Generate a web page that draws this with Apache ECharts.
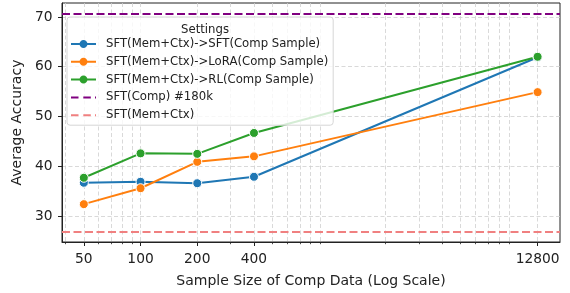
<!DOCTYPE html>
<html>
<head>
<meta charset="utf-8">
<script src="https://cdn.jsdelivr.net/npm/echarts@6/dist/echarts.min.js"></script>
<style>
  html, body { margin: 0; padding: 0; background: #fff; }
  #chart { width: 570px; height: 293px; }
</style>
</head>
<body>
<div id="chart"></div>
<script>
// values
const sampleSizes = [50, 100, 200, 400, 12800];
const sftSft = [36.7, 36.9, 36.6, 37.9, 61.9];
const sftLora = [32.4, 35.6, 40.9, 42.0, 54.9];
const sftRl = [37.7, 42.6, 42.5, 46.7, 62.0];
const sftCompRef = 70.6;   // SFT(Comp) #180k
const sftMemCtxRef = 26.9; // SFT(Mem+Ctx)

const xMajorTicks = [50, 100, 200, 400, 12800];
const xMinorTicks = [40, 60, 70, 80, 90, 300, 500, 600, 700, 800, 900,
  2000, 3000, 4000, 5000, 6000, 7000, 8000, 9000];
const yTicks = [30, 40, 50, 60, 70];

const FONT = 'DejaVu Sans';
const gridLine = { show: true, lineStyle: { color: '#cfcfcf', width: 0.8, type: [4, 2.5] } };

// legend icons (25x10 box): solid line with a dot, or a dashed line
const BOX = 'M0,0h0.001v0.001z M0,10h0.001v-0.001z ';
const ICON_DOT = 'path://' + BOX + 'M0,4h25v2h-25z ' +
  'M16.5,5 C16.5,7.21 14.71,9 12.5,9 C10.29,9 8.5,7.21 8.5,5 C8.5,2.79 10.29,1 12.5,1 C14.71,1 16.5,2.79 16.5,5 Z';
const ICON_DASH = 'path://' + BOX + 'M0,4h7.5v2h-7.5z M12.3,4h7.5v2h-7.5z M24,4h1v2h-1z';

const pairs = (ys) => sampleSizes.map((x, i) => [x, ys[i]]);

function lineSeries(name, color, ys) {
  return {
    name: name,
    type: 'line',
    data: pairs(ys),
    symbol: 'circle',
    symbolSize: 9,
    lineStyle: { color: color, width: 2 },
    itemStyle: { color: color, borderColor: '#fff', borderWidth: 1 },
    emphasis: { disabled: true },
    z: 3
  };
}

function refSeries(name, color, value) {
  return {
    name: name,
    type: 'line',
    data: [],
    symbol: 'none',
    lineStyle: { color: color, width: 2, type: [8, 3.5] },
    itemStyle: { color: color },
    markLine: {
      silent: true,
      symbol: 'none',
      label: { show: false },
      lineStyle: { color: color, width: 2, type: [8, 3.5] },
      data: [{ yAxis: value }]
    }
  };
}

const myChart = echarts.init(document.getElementById('chart'));
myChart.setOption({
  animation: false,
  textStyle: { fontFamily: FONT },
  grid: {
    left: 62, right: 10, top: 3, bottom: 50,
    show: true, borderColor: '#222', borderWidth: 1, backgroundColor: 'transparent'
  },
  title: {
    text: 'Settings',
    left: 200, top: 19,
    textAlign: 'center',
    textStyle: { fontFamily: FONT, fontSize: 11.7, fontWeight: 'normal', color: '#222' },
    z: 20
  },
  legend: {
    orient: 'vertical',
    left: 67, top: 17,
    padding: [20, 5, 3, 4],
    itemWidth: 25, itemHeight: 10, itemGap: 3.8,
    itemStyle: { borderWidth: 0 },
    backgroundColor: 'rgba(255,255,255,0.8)',
    borderColor: '#d6d6d6', borderWidth: 1, borderRadius: 3,
    textStyle: { fontFamily: FONT, fontSize: 11.7, color: '#222', lineHeight: 14, padding: [0, 0, 0, 5] },
    data: [
      { name: 'SFT(Mem+Ctx)->SFT(Comp Sample)', icon: ICON_DOT },
      { name: 'SFT(Mem+Ctx)->LoRA(Comp Sample)', icon: ICON_DOT },
      { name: 'SFT(Mem+Ctx)->RL(Comp Sample)', icon: ICON_DOT },
      { name: 'SFT(Comp) #180k', icon: ICON_DASH },
      { name: 'SFT(Mem+Ctx)', icon: ICON_DASH }
    ],
    z: 10
  },
  xAxis: [
    {
      type: 'log',
      min: 38.3, max: 16830,
      name: 'Sample Size of Comp Data (Log Scale)',
      nameLocation: 'middle', nameGap: 32,
      nameTextStyle: { fontFamily: FONT, fontSize: 14, color: '#222' },
      axisLine: { show: true, onZero: false, lineStyle: { color: '#222', width: 1 } },
      axisTick: { show: true, length: 4, customValues: xMajorTicks, lineStyle: { color: '#222' } },
      axisLabel: {
        customValues: xMajorTicks, margin: 10.5,
        fontFamily: FONT, fontSize: 13.8, color: '#222',
        formatter: (v) => String(Math.round(v))
      },
      splitLine: gridLine,
      minorTick: { show: false }, minorSplitLine: { show: false }
    },
    {
      type: 'log',
      position: 'bottom',
      min: 38.3, max: 16830,
      axisLine: { show: false, onZero: false },
      axisTick: { show: true, length: 2.2, customValues: xMinorTicks, lineStyle: { color: '#222', width: 0.8 } },
      axisLabel: { show: false },
      splitLine: gridLine
    }
  ],
  yAxis: {
    type: 'value',
    min: 24.8, max: 72.8,
    name: 'Average Accuracy',
    nameLocation: 'middle', nameGap: 33,
    nameTextStyle: { fontFamily: FONT, fontSize: 14, color: '#222' },
    axisLine: { show: true, onZero: false, lineStyle: { color: '#222', width: 1 } },
    axisTick: { show: true, length: 4, customValues: yTicks, lineStyle: { color: '#222' } },
    axisLabel: { customValues: yTicks, margin: 9.5, fontFamily: FONT, fontSize: 13.8, color: '#222' },
    splitLine: gridLine
  },
  series: [
    lineSeries('SFT(Mem+Ctx)->SFT(Comp Sample)', '#1f77b4', sftSft),
    lineSeries('SFT(Mem+Ctx)->LoRA(Comp Sample)', '#ff7f0e', sftLora),
    lineSeries('SFT(Mem+Ctx)->RL(Comp Sample)', '#2ca02c', sftRl),
    refSeries('SFT(Comp) #180k', '#800080', sftCompRef),
    refSeries('SFT(Mem+Ctx)', '#f08080', sftMemCtxRef)
  ]
});
</script>
</body>
</html>
